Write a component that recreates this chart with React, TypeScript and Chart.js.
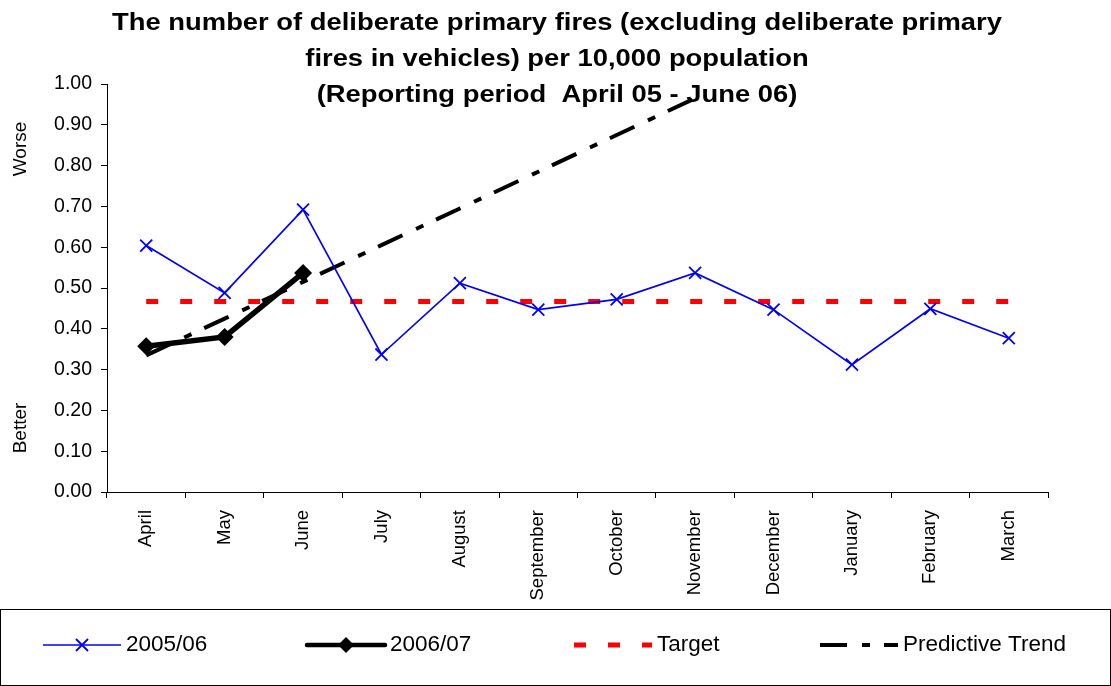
import React, { useEffect, useRef } from "react";
import { Chart, registerables } from "chart.js";

Chart.register(...registerables);

const categories = [
  "April", "May", "June", "July", "August", "September",
  "October", "November", "December", "January", "February", "March",
];
const values2005 = [0.604, 0.488, 0.692, 0.337, 0.512, 0.447, 0.472, 0.537, 0.447, 0.312, 0.449, 0.377];
const values2006 = [0.357, 0.38, 0.537, null, null, null, null, null, null, null, null, null];
const targetValues = [0.467, 0.467, 0.467, 0.467, 0.467, 0.467, 0.467, 0.467, 0.467, 0.467, 0.467, 0.467];
const trendValues = [0.335, 0.425, 0.515, 0.605, 0.695, 0.785, 0.875, 0.965, null, null, null, null];
const seriesLabels = ["2005/06", "2006/07", "Target", "Predictive Trend"];
const titleLines = [
  "The number of deliberate primary fires (excluding deliberate primary",
  "fires in vehicles) per 10,000 population",
  "(Reporting period  April 05 - June 06)",
];
const worseLabel = "Worse";
const betterLabel = "Better";

const FONT = "'Liberation Sans', Arial, Helvetica, sans-serif";

const decorPlugin = {
  id: "decor",
  beforeDatasetsDraw(chart: any) {
    const ctx = chart.ctx as CanvasRenderingContext2D;
    ctx.save();
    ctx.fillStyle = "#000";
    ctx.font = `bold 23px ${FONT}`;
    ctx.textAlign = "center";
    ctx.textBaseline = "alphabetic";
    const baselines = [29.5, 65.5, 101.5];
    titleLines.forEach((line, i) => {
      ctx.save();
      ctx.translate(557, baselines[i]);
      ctx.scale(1.19, 1);
      ctx.fillText(line, 0, 0);
      ctx.restore();
    });
    ctx.font = `19px ${FONT}`;
    ctx.textBaseline = "middle";
    ctx.textAlign = "center";
    ctx.save();
    ctx.translate(21, 149);
    ctx.rotate(-Math.PI / 2);
    ctx.fillText(worseLabel, 0, 0);
    ctx.restore();
    ctx.save();
    ctx.translate(21, 428);
    ctx.rotate(-Math.PI / 2);
    ctx.fillText(betterLabel, 0, 0);
    ctx.restore();
    ctx.restore();
  },
  afterDraw(chart: any) {
    const ctx = chart.ctx as CanvasRenderingContext2D;
    ctx.save();
    ctx.strokeStyle = "#000";
    ctx.lineWidth = 1;
    ctx.setLineDash([]);
    ctx.strokeRect(0.5, 609.5, 1110, 76);
    const starts = [43, 307, 574, 820];
    const len = 78;
    const y = 645;
    chart.data.datasets.forEach((ds: any, i: number) => {
      const x0 = starts[i];
      ctx.save();
      ctx.strokeStyle = ds.borderColor;
      ctx.lineWidth = i === 1 ? 4.5 : ds.borderWidth;
      ctx.setLineDash(ds.borderDash || []);
      ctx.lineCap = i === 1 ? "round" : "butt";
      ctx.beginPath();
      ctx.moveTo(x0, y);
      ctx.lineTo(x0 + len, y);
      ctx.stroke();
      ctx.setLineDash([]);
      const cx = x0 + len / 2;
      if (ds.pointStyle === "crossRot") {
        const r = ds.pointRadius;
        const d = r * Math.SQRT1_2;
        ctx.lineWidth = ds.pointBorderWidth;
        ctx.strokeStyle = ds.pointBorderColor;
        ctx.beginPath();
        ctx.moveTo(cx - d, y - d);
        ctx.lineTo(cx + d, y + d);
        ctx.moveTo(cx + d, y - d);
        ctx.lineTo(cx - d, y + d);
        ctx.stroke();
      } else if (ds.pointStyle === "rectRot") {
        const r = ds.pointRadius - 1;
        ctx.fillStyle = ds.pointBackgroundColor;
        ctx.beginPath();
        ctx.moveTo(cx, y - r);
        ctx.lineTo(cx + r, y);
        ctx.lineTo(cx, y + r);
        ctx.lineTo(cx - r, y);
        ctx.closePath();
        ctx.fill();
      }
      ctx.fillStyle = "#000";
      ctx.font = `22.5px ${FONT}`;
      ctx.textAlign = "left";
      ctx.textBaseline = "middle";
      ctx.fillText(ds.label, x0 + len + 5, y);
      ctx.restore();
    });
    ctx.restore();
  },
};

export default function App() {
  const ref = useRef<HTMLCanvasElement | null>(null);
  useEffect(() => {
    document.body.style.margin = "0";
    const canvas = ref.current;
    if (!canvas) return;
    const chart = new Chart(canvas, {
      type: "line",
      data: {
        labels: categories,
        datasets: [
          {
            label: seriesLabels[0],
            data: values2005,
            borderColor: "#0000FF",
            backgroundColor: "#0000FF",
            borderWidth: 1.7,
            pointStyle: "crossRot",
            pointRadius: 8.5,
            pointBorderWidth: 1.8,
            pointBorderColor: "#0000FF",
            pointBackgroundColor: "#0000FF",
            tension: 0,
            order: 1,
          },
          {
            label: seriesLabels[1],
            data: values2006,
            borderColor: "#000000",
            backgroundColor: "#000000",
            borderWidth: 5.5,
            pointStyle: "rectRot",
            pointRadius: 9,
            pointBorderWidth: 0,
            pointBorderColor: "#000000",
            pointBackgroundColor: "#000000",
            tension: 0,
            spanGaps: false,
            order: 0,
          },
          {
            label: seriesLabels[2],
            data: targetValues,
            borderColor: "#FF0000",
            backgroundColor: "#FF0000",
            borderWidth: 5,
            borderDash: [12, 22],
            pointRadius: 0,
            tension: 0,
            order: 3,
          },
          {
            label: seriesLabels[3],
            data: trendValues,
            borderColor: "#000000",
            backgroundColor: "#000000",
            borderWidth: 4,
            borderDash: [27, 15, 8, 14],
            pointRadius: 0,
            tension: 0,
            order: 2,
          },
        ],
      },
      options: {
        responsive: false,
        animation: false,
        events: [],
        layout: { padding: { left: 0, right: 63, top: 84, bottom: 77 } },
        plugins: {
          legend: { display: false },
          title: { display: false },
          tooltip: { enabled: false },
        },
        scales: {
          x: {
            type: "category",
            offset: true,
            grid: {
              offset: true,
              drawOnChartArea: false,
              drawTicks: true,
              tickLength: 6,
              color: "#000",
            },
            border: { display: true, color: "#000", width: 1 },
            ticks: {
              autoSkip: false,
              minRotation: 90,
              maxRotation: 90,
              padding: 12,
              color: "#000",
              font: { family: FONT, size: 18.5 },
            },
            afterFit: (scale: any) => {
              scale.height = 117;
            },
          },
          y: {
            min: 0,
            max: 1,
            grid: {
              drawOnChartArea: false,
              drawTicks: true,
              tickLength: 6,
              color: "#000",
            },
            border: { display: true, color: "#000", width: 1 },
            ticks: {
              stepSize: 0.1,
              padding: 9,
              color: "#000",
              font: { family: FONT, size: 19.5 },
              callback: (v: any) => Number(v).toFixed(2),
            },
            afterFit: (scale: any) => {
              scale.width = 107;
            },
          },
        },
      },
      plugins: [decorPlugin],
    } as any);
    return () => chart.destroy();
  }, []);
  return (
    <div style={{ width: 1111, height: 686 }}>
      <canvas ref={ref} width={1111} height={686} style={{ display: "block" }} />
    </div>
  );
}
